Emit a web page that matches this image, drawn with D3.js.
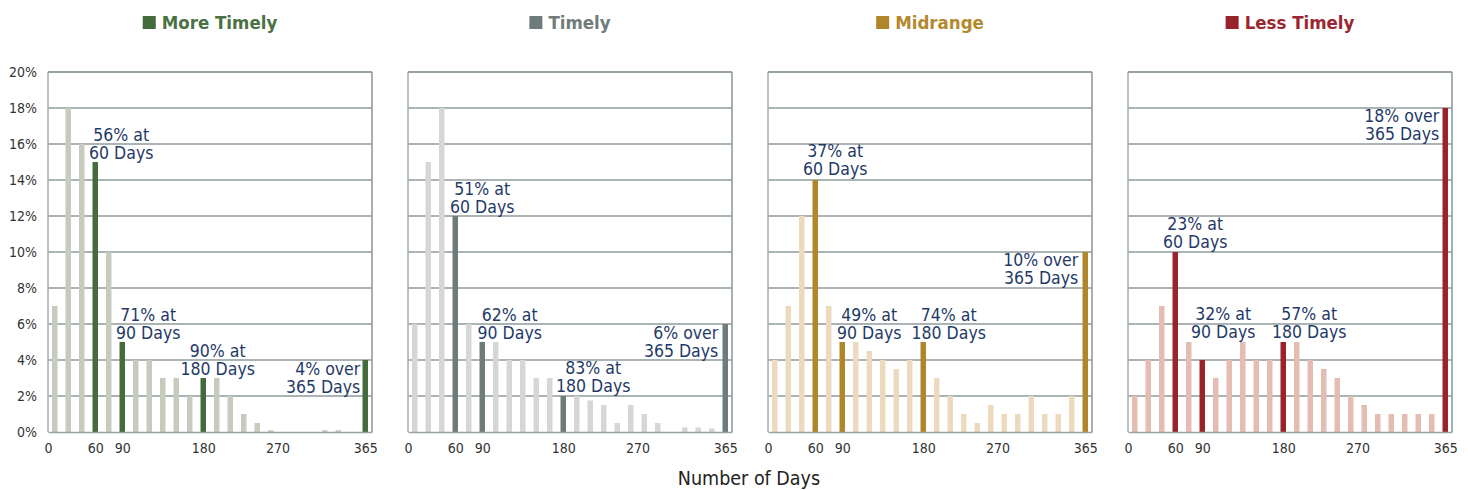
<!DOCTYPE html>
<html>
<head>
<meta charset="utf-8">
<script src="https://cdn.jsdelivr.net/npm/d3@7"></script>
<style>
  html, body { margin: 0; padding: 0; background: #fff; }
  svg { display: block; }
  text { font-family: "DejaVu Sans Condensed", "DejaVu Sans", sans-serif; font-stretch: condensed; }
</style>
</head>
<body>
<div id="chart"></div>
<script>
// ---------- DATA ----------
const bins = ["15","30","45","60","75","90","105","120","135","150","165","180",
              "195","210","225","240","255","270","285","300","315","330","345","365+"];
const highlightBins = ["60","90","180","365+"];

const seriesNames = ["More Timely", "Timely", "Midrange", "Less Timely"];

const moreTimely = [7,18,16,15,10,5,4,4,3,3,2,3,3,2,1,0.5,0.1,0,0,0,0.1,0.1,0,4];
const timely     = [6,15,18,12,6,5,5,4,4,3,3,2,2,1.75,1.5,0.5,1.5,1,0.5,0,0.25,0.25,0.2,6];
const midrange   = [4,7,12,14,7,5,5,4.5,4,3.5,4,5,3,2,1,0.5,1.5,1,1,2,1,1,2,10];
const lessTimely = [2,4,7,10,5,4,3,4,5,4,4,5,5,4,3.5,3,2,1.5,1,1,1,1,1,18];

const yTicks = [0,2,4,6,8,10,12,14,16,18,20];
const xTickLabels = ["0","60","90","180","270","365"];
const xTickBinPos = [0, 3.5, 5.5, 11.5, 17, 23.5];   // in bin units along the axis

const notesMoreTimely = [["56% at","60 Days","60"],["71% at","90 Days","90"],["90% at","180 Days","180"],["4% over","365 Days","365+"]];
const notesTimely     = [["51% at","60 Days","60"],["62% at","90 Days","90"],["83% at","180 Days","180"],["6% over","365 Days","365+"]];
const notesMidrange   = [["37% at","60 Days","60"],["49% at","90 Days","90"],["74% at","180 Days","180"],["10% over","365 Days","365+"]];
const notesLessTimely = [["23% at","60 Days","60"],["32% at","90 Days","90"],["57% at","180 Days","180"],["18% over","365 Days","365+"]];

const xAxisTitle = "Number of Days";

// ---------- STYLE / LAYOUT ----------
const darkColors  = ["#436b3b", "#6e7b7b", "#b0862b", "#98232b"];
const lightColors = ["#c6cbbe", "#d5d6d5", "#ebdabd", "#e4bcb1"];
const titleColors = ["#4a7142", "#707c7c", "#b3892e", "#9b2630"];
const noteColor = "#1f3a68";
const gridColor = "#8f9b9b";

// label offsets: [dx, dy] (dx from bar centre; dy = baseline of 2nd line relative to bar top)
const noteLayout = [
  [[26,-3],[26,-3],[14.5,-3],[-5,33]],
  [[27,-3],[27.5,-3.5],[30,-4],[-7,33]],
  [[20,-5],[27,-3],[25.5,-3],[-7,32]],
  [[20,-4],[21,-22],[26,-4],[-6,32]]
];

const W = 1468, H = 490;
const panelW = 324, panelH = 360, panelTop = 72, firstLeft = 48, panelGap = 36;
const noteSize = 17.5, lineGap = 18;

const svg = d3.select("#chart").append("svg").attr("width", W).attr("height", H);

const allValues = [moreTimely, timely, midrange, lessTimely];
const allNotes = [notesMoreTimely, notesTimely, notesMidrange, notesLessTimely];

const y = d3.scaleLinear().domain([0, 20]).range([panelH, 0]);
const xBand = d3.scaleBand().domain(bins).range([0, panelW]).paddingInner(0.595).paddingOuter(0.2975);
const xLin = d3.scaleLinear().domain([0, bins.length]).range([0, panelW]);

seriesNames.forEach((name, si) => {
  const left = firstLeft + si * (panelW + panelGap);
  const g = svg.append("g").attr("transform", `translate(${left},${panelTop})`);
  const vals = allValues[si];
  const data = bins.map((b, i) => ({bin: b, v: vals[i]}));

  // gridlines
  g.append("g").selectAll("line").data(yTicks.filter(d => d > 0)).join("line")
    .attr("x1", 0).attr("x2", panelW)
    .attr("y1", d => y(d)).attr("y2", d => y(d))
    .attr("stroke", gridColor).attr("stroke-width", 1.5);

  // bars
  g.append("g").selectAll("rect").data(data).join("rect")
    .attr("x", d => xBand(d.bin))
    .attr("width", xBand.bandwidth())
    .attr("y", d => y(d.v))
    .attr("height", d => y(0) - y(d.v))
    .attr("fill", d => highlightBins.includes(d.bin) ? darkColors[si] : lightColors[si]);

  // frame
  g.append("line").attr("x1", 0).attr("x2", 0).attr("y1", 0).attr("y2", panelH)
    .attr("stroke", "#a3adad").attr("stroke-width", 1.5);
  g.append("line").attr("x1", panelW).attr("x2", panelW).attr("y1", 0).attr("y2", panelH)
    .attr("stroke", "#8a9696").attr("stroke-width", 1.5);
  g.append("line").attr("x1", 0).attr("x2", panelW).attr("y1", 0).attr("y2", 0)
    .attr("stroke", gridColor).attr("stroke-width", 1.5);

  // x axis
  const xa = g.append("g").attr("transform", `translate(0,${panelH})`)
    .call(d3.axisBottom(xLin).tickValues(xTickBinPos).tickSize(0)
      .tickFormat((d, i) => xTickLabels[i]));
  xa.attr("font-size", null).attr("font-family", null);
  xa.select(".domain").attr("stroke", "#97a2a2").attr("stroke-width", 1.5);
  xa.selectAll("text").attr("dy", "0.71em").attr("y", 11)
    .style("font-size", "14px").attr("fill", "#333");

  // y axis (first panel only)
  if (si === 0) {
    const ya = g.append("g").call(d3.axisLeft(y).tickValues(yTicks).tickSize(0)
      .tickFormat(d => d + "%"));
    ya.attr("font-size", null).attr("font-family", null);
    ya.select(".domain").remove();
    ya.selectAll("text").attr("x", -11).style("font-size", "14px").attr("fill", "#333");
  }

  // annotations
  allNotes[si].forEach((n, ni) => {
    const [l1, l2, bin] = n;
    const idx = bins.indexOf(bin);
    const cx = xBand(bin) + xBand.bandwidth() / 2;
    const top = y(vals[idx]);
    const [dx, dy] = noteLayout[si][ni];
    const anchor = bin === "365+" ? "end" : "middle";
    const t = g.append("text").attr("text-anchor", anchor).attr("fill", noteColor)
      .style("font-size", noteSize + "px");
    t.append("tspan").attr("x", cx + dx).attr("y", top + dy - lineGap).text(l1);
    t.append("tspan").attr("x", cx + dx).attr("y", top + dy).text(l2);
  });

  // title (legend-like)
  const tg = svg.append("g");
  const tt = tg.append("text").attr("y", 29).style("font-size", "18.5px").attr("font-weight", "bold")
    .attr("fill", titleColors[si]).text(name);
  const tw = tt.node().getComputedTextLength();
  const sq = 13, gap = 6;
  const total = sq + gap + tw;
  const cxp = left + panelW / 2;
  const x0 = cxp - total / 2;
  tg.insert("rect", "text").attr("x", x0).attr("y", 16).attr("width", sq).attr("height", sq)
    .attr("fill", darkColors[si]);
  tt.attr("x", x0 + sq + gap);
});

svg.append("text").attr("x", 749).attr("y", 485).attr("text-anchor", "middle")
  .style("font-size", "19.5px").attr("fill", "#222").text(xAxisTitle);
</script>
</body>
</html>
